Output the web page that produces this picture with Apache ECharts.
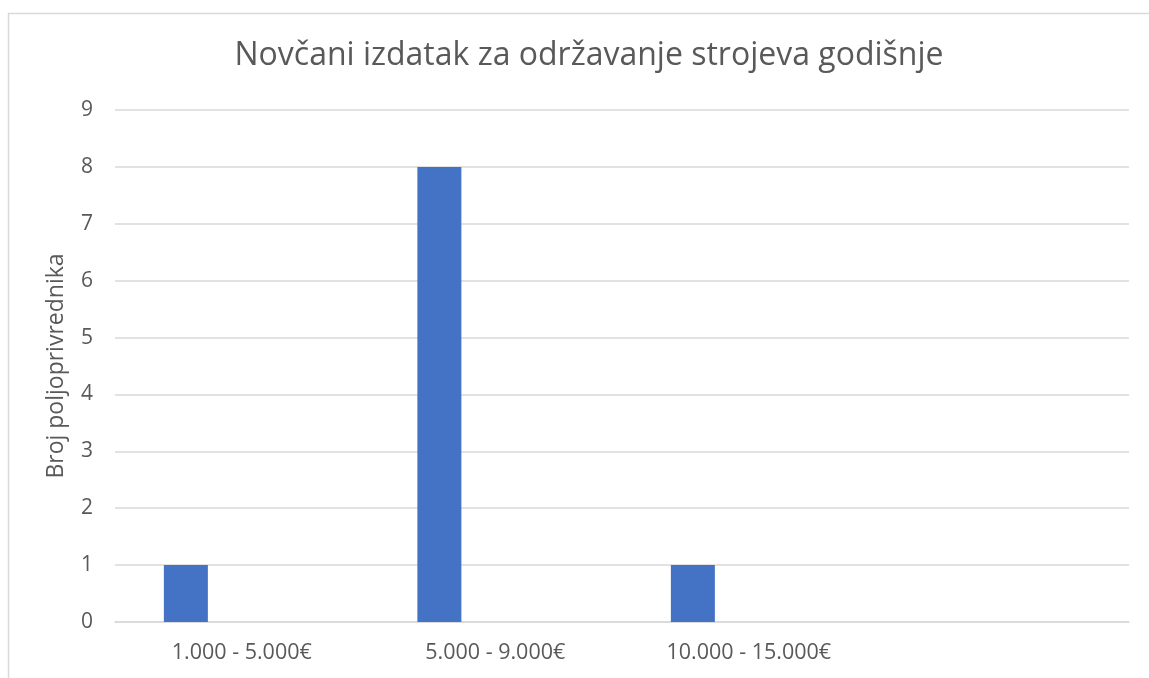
<!DOCTYPE html>
<html>
<head>
<meta charset="utf-8">
<script src="https://cdn.jsdelivr.net/npm/echarts@6/dist/echarts.min.js"></script>
<style>html,body{margin:0;padding:0;background:#fff;}#c{width:1149px;height:678px;}</style>
</head>
<body>
<div id="c"></div>
<script>
const titleText = 'Novčani izdatak za održavanje strojeva godišnje';
const yAxisName = 'Broj poljoprivrednika';
const categories = ['1.000 - 5.000€', '5.000 - 9.000€', '10.000 - 15.000€', ''];
const seriesNames = ['Serija 1', 'Serija 2', 'Serija 3'];
const series1 = [1, 8, 1, null];
const series2 = [null, null, null, null];
const series3 = [null, null, null, null];
const yTicks = [0, 1, 2, 3, 4, 5, 6, 7, 8, 9];

const font = '"Open Sans", Lato, sans-serif';
const txt = '#595959';
const chart = echarts.init(document.getElementById('c'), null, {renderer: 'canvas'});
const barStyle = {type: 'bar', barWidth: 44, barGap: '27%', itemStyle: {color: '#4472C4'}};
chart.setOption({
  animation: false,
  backgroundColor: '#fff',
  title: {
    text: titleText, left: 584, top: 35, textAlign: 'center',
    textStyle: {fontFamily: font, fontSize: 32, fontWeight: 'normal', color: txt}
  },
  graphic: [{
    type: 'rect', left: 6, top: 11, silent: true,
    shape: {width: 1200, height: 700},
    style: {fill: 'none', stroke: '#d9d9d9', lineWidth: 1.5}
  }],
  grid: {left: 115, right: 20, top: 110, bottom: 56},
  xAxis: {
    type: 'category', data: categories,
    axisLine: {show: true, lineStyle: {color: '#d9d9d9', width: 1.5}},
    axisTick: {show: false},
    axisLabel: {fontFamily: font, fontSize: 21.5, color: txt, margin: 20}
  },
  yAxis: {
    type: 'value', min: yTicks[0], max: yTicks[yTicks.length - 1], interval: 1,
    name: yAxisName, nameLocation: 'middle', nameGap: 47, nameRotate: 90,
    nameTextStyle: {fontFamily: font, fontSize: 23, color: txt},
    axisLine: {show: false}, axisTick: {show: false},
    axisLabel: {fontFamily: font, fontSize: 21, color: txt, margin: 22},
    splitLine: {lineStyle: {color: '#d9d9d9', width: 1.5}}
  },
  series: [
    Object.assign({name: seriesNames[0], data: series1}, barStyle),
    Object.assign({name: seriesNames[1], data: series2}, barStyle),
    Object.assign({name: seriesNames[2], data: series3}, barStyle)
  ]
});
</script>
</body>
</html>
